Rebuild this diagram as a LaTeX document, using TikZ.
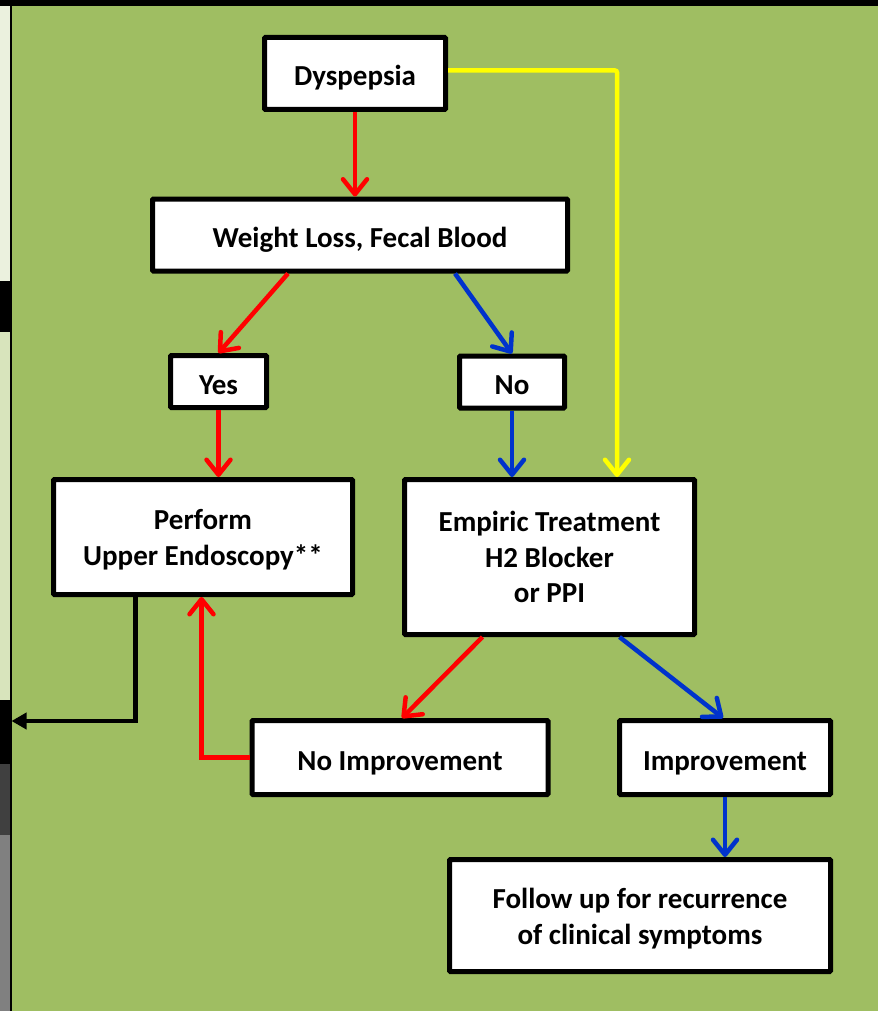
\documentclass[tikz,border=0pt]{standalone}
\usepackage{fontspec}
\setmainfont{Carlito}
\usetikzlibrary{arrows.meta,calc}
\definecolor{bggreen}{HTML}{9FBE62}
\definecolor{stripA}{HTML}{EBF1DE}
\definecolor{stripB}{HTML}{D8E4BC}
\definecolor{stripC}{HTML}{404040}
\definecolor{stripD}{HTML}{808080}
\definecolor{arrred}{HTML}{FF0000}
\definecolor{arrblue}{HTML}{0033CC}
\definecolor{arryellow}{HTML}{FFFF00}
\newcommand{\tallstrut}[1]{\rule{0pt}{#1}}
\tikzset{
  box/.style={draw=black, line width=5pt, fill=white, inner sep=0pt, rounded corners=1pt,
    font=\fontsize{29}{35.5}\selectfont\bfseries, align=center},
  onebox/.style={box, text height=25pt, text depth=0pt},
  carrow/.style={line width=4.5pt, -{Straight Barb[length=15pt,width=24pt,round]}},
  redarrow/.style={carrow, draw=arrred},
  bluearrow/.style={carrow, draw=arrblue},
  yellowarrow/.style={carrow, draw=arryellow, rounded corners=2pt},
  blackarrow/.style={line width=4.5pt, draw=black, -{Triangle[length=15pt,width=16pt]}}
}
\begin{document}
\begin{tikzpicture}[x=1pt,y=-1pt]
\useasboundingbox (0,0) rectangle (878,1011);
% background
\fill[bggreen] (0,0) rectangle (878,1011);
\fill[black] (0,0) rectangle (878,6);
\fill[stripA] (0,6) rectangle (9.5,281);
\fill[black] (0,281) rectangle (9.5,332);
\fill[stripB] (0,332) rectangle (9.5,700);
\fill[black] (0,700) rectangle (9.5,764);
\fill[stripC] (0,764) rectangle (9.5,835);
\fill[stripD] (0,835) rectangle (9.5,1011);
\fill[black] (9.5,0) rectangle (11.5,1011);

% boxes
\node[onebox, minimum width=181pt, minimum height=72pt] (dys) at (355,73.5) {Dyspepsia};
\node[onebox, minimum width=415pt, minimum height=72pt] (wt) at (360,235) {Weight Loss, Fecal Blood};
\node[onebox, minimum width=96pt, minimum height=52pt] (yes) at (218.5,381.5) {Yes};
\node[onebox, minimum width=105pt, minimum height=52pt] (no) at (512,382) {No};
\node[box, minimum width=299pt, minimum height=115pt] (perf) at (203,537) {\tallstrut{26pt}Perform\\Upper Endoscopy**};
\node[box, minimum width=290pt, minimum height=155pt] (emp) at (549.5,557) {Empiric Treatment\\H2 Blocker\\or PPI};
\node[onebox, minimum width=296pt, minimum height=74pt] (noimp) at (400,757.5) {No Improvement};
\node[onebox, minimum width=211pt, minimum height=74pt] (imp) at (725,757.5) {Improvement};
\node[box, minimum width=381pt, minimum height=112pt] (fol) at (640,915.5) {\tallstrut{26.5pt}Follow up for recurrence\\of clinical symptoms};

% connectors
\draw[redarrow] (dys.south) -- (dys.south |- wt.north);
\draw[redarrow] ([xshift=-72pt]wt.south) -- (yes.north);
\draw[bluearrow] ([xshift=95pt]wt.south) -- (no.north);
\draw[redarrow] (yes.south) -- (yes.south |- perf.north);
\draw[bluearrow] (no.south) -- (no.south |- emp.north);
\draw[yellowarrow] ([yshift=3pt]dys.east) -| ([xshift=67.5pt]emp.north);
\draw[redarrow] ([xshift=-67pt]emp.south) -- ([xshift=2pt]noimp.north);
\draw[bluearrow] ([xshift=70pt]emp.south) -- ([xshift=-2pt]imp.north);
\draw[bluearrow] (imp.south) -- (imp.south |- fol.north);
\draw[redarrow] (noimp.west) -| ([xshift=-1.5pt]perf.south);
\coordinate (exit) at (11.5,721);
\draw[blackarrow] ([xshift=-67.5pt]perf.south) |- (exit);
\end{tikzpicture}
\end{document}
